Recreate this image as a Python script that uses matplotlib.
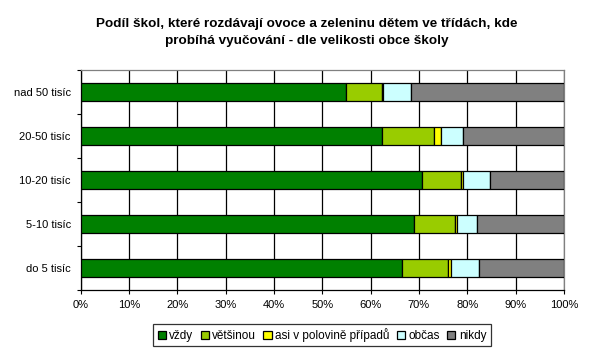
import matplotlib
matplotlib.use("Agg")
import matplotlib.pyplot as plt
import numpy as np
from matplotlib.ticker import FixedLocator, PercentFormatter

plt.rcParams['font.family'] = ['Liberation Sans', 'DejaVu Sans']

categories = ["do 5 tisíc", "5-10 tisíc", "10-20 tisíc", "20-50 tisíc", "nad 50 tisíc"]
series_names = ["vždy", "většinou", "asi v polovině případů", "občas", "nikdy"]
vzdy = [66.4, 68.9, 70.7, 62.3, 55.0]
vetsinou = [9.7, 8.5, 8.0, 10.9, 7.3]
asi = [0.6, 0.4, 0.5, 1.4, 0.3]
obcas = [5.8, 4.2, 5.5, 4.6, 5.8]
nikdy = [17.5, 18.0, 15.3, 20.8, 31.6]
colors = ["#008000", "#99CC00", "#FFFF00", "#CCFFFF", "#808080"]
title = "Podíl škol, které rozdávají ovoce a zeleninu dětem ve třídách, kde\nprobíhá vyučování - dle velikosti obce školy"

fig = plt.figure(figsize=(6.03, 3.59), dpi=100)
ax = fig.add_axes([80.5/603, 1-290/359, (564-80.5)/603, 220/359])

y = np.arange(len(categories))
left = np.zeros(len(categories))
for name, vals, c in zip(series_names, [vzdy, vetsinou, asi, obcas, nikdy], colors):
    ax.barh(y, vals, left=left, height=0.4, color=c, edgecolor="black", linewidth=0.9,
            label=name, zorder=3)
    left += np.array(vals)

ax.set_xlim(0, 100)
ax.set_ylim(-0.5, len(categories) - 0.5)
ax.set_xticks(np.arange(0, 101, 10))
ax.xaxis.set_major_formatter(PercentFormatter(decimals=0))
ax.set_yticks(y)
ax.set_yticklabels(categories)
ax.yaxis.set_minor_locator(FixedLocator(np.arange(-0.5, len(categories), 1)))
ax.tick_params(axis='y', which='major', length=0, pad=7, labelsize=8)
ax.tick_params(axis='y', which='minor', length=3, width=0.8)
ax.tick_params(axis='x', length=3, width=0.8, labelsize=8, pad=4)
ax.grid(axis='x', color='black', linewidth=0.9, zorder=0)
for s in ['top', 'right']:
    ax.spines[s].set_color('#808080')
    ax.spines[s].set_linewidth(0.9)
for s in ['left', 'bottom']:
    ax.spines[s].set_color('black')
    ax.spines[s].set_linewidth(0.9)

fig.text(307/603, 1-32.5/359, title, ha='center', va='center', fontsize=9.7, fontweight='bold',
         linespacing=1.45)

leg = fig.legend(loc='center', bbox_to_anchor=(322/603, 1-335/359), ncol=5, fontsize=8.5,
                 frameon=True, fancybox=False, edgecolor='black', handlelength=0.7,
                 handleheight=0.7, handletextpad=0.3, columnspacing=0.6, borderpad=0.35)
leg.get_frame().set_linewidth(0.9)

fig.savefig("out.png", dpi=100)
